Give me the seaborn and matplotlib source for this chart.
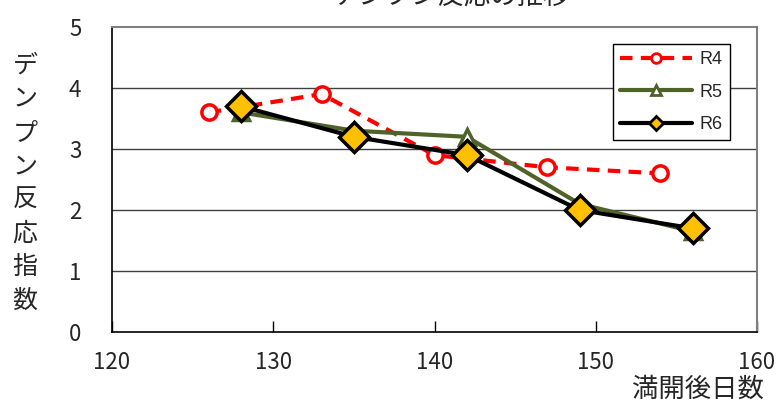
import matplotlib
matplotlib.use("Agg")
import matplotlib.pyplot as plt
import seaborn as sns
import pandas as pd

# data
days_r4 = [126, 133, 140, 147, 154]
vals_r4 = [3.6, 3.9, 2.9, 2.7, 2.6]
days_r5 = [128, 135, 142, 149, 156]
vals_r5 = [3.6, 3.3, 3.2, 2.1, 1.65]
days_r6 = [128, 135, 142, 149, 156]
vals_r6 = [3.7, 3.2, 2.9, 2.0, 1.7]

title = "デンプン反応の推移"
ylabel = "デンプン反応指数"
xlabel = "満開後日数"

sns.set_style("white")
plt.rcParams['font.family'] = ['Noto Sans CJK JP', 'DejaVu Sans']

fig = plt.figure(figsize=(7.78, 4.03), dpi=100)
ax = fig.add_axes([112 / 778, 1 - 332 / 403, 645 / 778, 305 / 403])

r4 = pd.DataFrame({"day": days_r4, "val": vals_r4})
r5 = pd.DataFrame({"day": days_r5, "val": vals_r5})
r6 = pd.DataFrame({"day": days_r6, "val": vals_r6})

sns.lineplot(data=r4, x="day", y="val", ax=ax, color="#FF0000", linewidth=3,
             linestyle=(0, (3, 2)), marker="o", markersize=11,
             markerfacecolor="white", markeredgecolor="#FF0000",
             markeredgewidth=2.5, label="R4", zorder=3)
sns.lineplot(data=r5, x="day", y="val", ax=ax, color="#4F6228", linewidth=3,
             marker="^", markersize=12, markerfacecolor="white",
             markeredgecolor="#4F6228", markeredgewidth=2.5, label="R5",
             zorder=4)
sns.lineplot(data=r6, x="day", y="val", ax=ax, color="black", linewidth=3,
             marker="D", markersize=15, markerfacecolor="#FFC000",
             markeredgecolor="black", markeredgewidth=2.5, label="R6",
             zorder=5)

ax.set_xlim(120, 160)
ax.set_ylim(0, 5)
ax.set_xticks([120, 130, 140, 150, 160])
ax.set_yticks([0, 1, 2, 3, 4, 5])
ax.set_xlabel("")
ax.set_ylabel("")
for v in [1, 2, 3, 4]:
    ax.axhline(v, color="#404040", linewidth=1, zorder=1)

ax.tick_params(axis="x", direction="in", length=8, width=1, color="black",
               labelsize=16, pad=14, bottom=True)
ax.tick_params(axis="y", length=0, labelsize=16, pad=22)
for s in ["top", "right"]:
    ax.spines[s].set_color("#808080")
    ax.spines[s].set_linewidth(1.5)
for s in ["left", "bottom"]:
    ax.spines[s].set_color("black")
    ax.spines[s].set_linewidth(1.2)

leg = ax.legend(loc="upper right", bbox_to_anchor=(0.958, 0.944),
                frameon=True, fancybox=False, edgecolor="black",
                framealpha=1, handlelength=4.0, labelspacing=0.85,
                handletextpad=0.4, borderpad=0.4, borderaxespad=0,
                prop={"family": "Liberation Sans", "size": 13})
leg.get_frame().set_linewidth(1)
for h in leg.legend_handles:
    h.set_markersize(7)
    h.set_markeredgewidth(2)

fig.text(451 / 778, 1 - 4 / 403, title, ha="center", va="baseline",
         fontsize=19)
fig.text(25 / 778, 1 - 183 / 403, "\n".join(ylabel), ha="center",
         va="center", fontsize=18, linespacing=1.38)
fig.text(764 / 778, 1 - 389 / 403, xlabel, ha="right", va="center",
         fontsize=19)

fig.savefig("out.png", dpi=100)
